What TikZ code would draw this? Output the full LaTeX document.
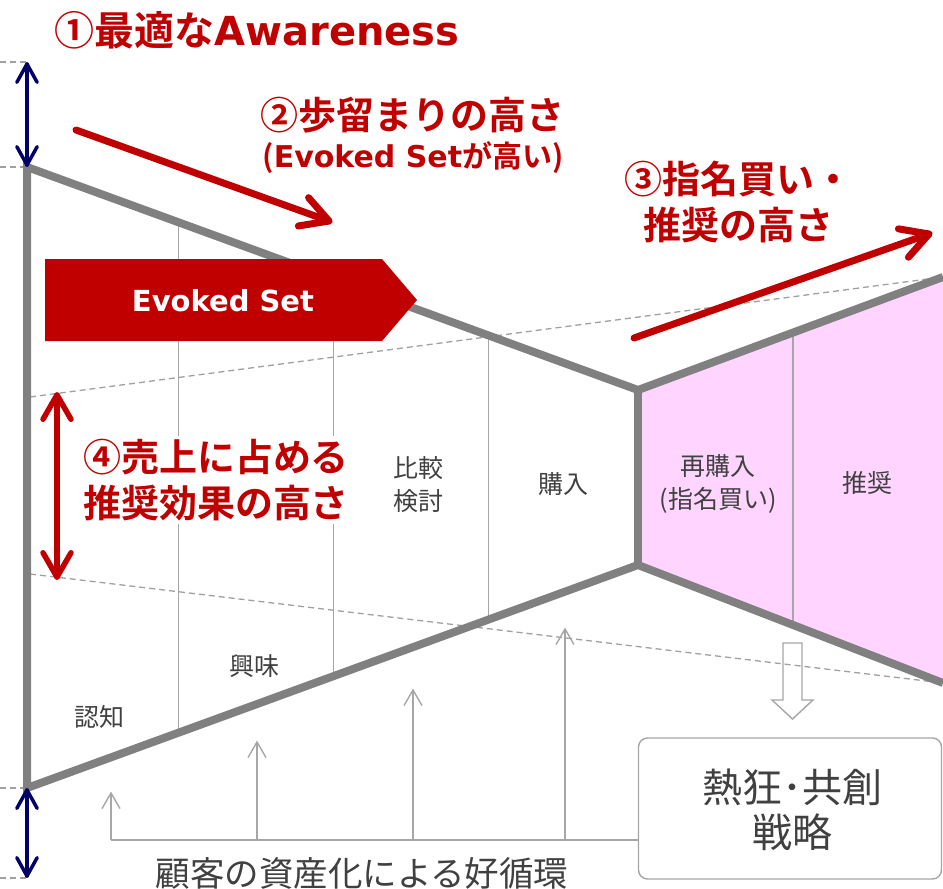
\documentclass[tikz,border=0pt]{standalone}
\usepackage{fontspec}
\setmainfont{Noto Sans CJK JP}[BoldFont=* Bold]
\newfontfamily\lat{DejaVu Sans}
\usetikzlibrary{calc}
\definecolor{myred}{HTML}{C00000}
\definecolor{mynavy}{HTML}{000066}
\definecolor{mypink}{HTML}{FFD5FF}
\definecolor{outl}{HTML}{808080}
\definecolor{thinc}{HTML}{A6A6A6}
\definecolor{guidec}{HTML}{A0A0A0}
\definecolor{txt}{HTML}{404040}
% chevron head: style, tip, from-point, arm length, half angle
\newcommand{\chevhead}[5]{\draw[#1] ($(#2)!#4!#5:(#3)$) -- (#2) -- ($(#2)!#4!-#5:(#3)$);}
\begin{document}
\begin{tikzpicture}[x=1pt,y=-1pt,
  outline/.style={draw=outl,line width=8pt,line join=miter},
  divider/.style={draw=thinc,line width=1.4pt},
  guide/.style={draw=guidec,line width=1.3pt,dash pattern=on 6pt off 4pt},
  thinline/.style={draw=thinc,line width=1.4pt},
  thinarr/.style={draw=thinc,line width=1.4pt,line join=miter},
  redarr/.style={draw=myred,line width=7pt,line cap=round,line join=round},
  navyarr/.style={draw=mynavy,line width=3.5pt,line cap=round,line join=round},
  reddblarr/.style={draw=myred,line width=5.5pt,line cap=round,line join=round},
  stagelbl/.style={text=txt,font=\fontsize{25}{33}\selectfont,align=center,inner sep=0pt},
  redlbl/.style={text=myred,font=\bfseries\fontsize{38}{46}\selectfont,align=center,inner sep=0pt},
  bigtxt/.style={text=txt,align=center,inner sep=0pt}
]
\useasboundingbox (0,0) rectangle (943,889);

% funnel vertices
\coordinate (TL) at (27,167);
\coordinate (BL) at (27,788);
\coordinate (PT) at (638,390);
\coordinate (PB) at (638,565);
\coordinate (RT) at (943,277);
\coordinate (RB) at (943,683);

% pink part
\fill[mypink] (PT) -- (RT) -- (RB) -- (PB) -- cycle;

% dashed guides
\draw[guide] (30,397) -- (RT);
\draw[guide] (30,574) -- (RB);
\draw[guide] (0,62) -- (27,62);
\draw[guide] (0,167) -- (TL);
\draw[guide] (0,788) -- (BL);
\draw[guide] (0,878) -- (27,878);

% stage dividers
\draw[divider] ($(TL)!0.2475!(PT)$) -- ($(BL)!0.2475!(PB)$);
\draw[divider] ($(TL)!0.5016!(PT)$) -- ($(BL)!0.5016!(PB)$);
\draw[divider] ($(TL)!0.7557!(PT)$) -- ($(BL)!0.7557!(PB)$);
\draw[divider] ($(PT)!0.5082!(RT)$) -- ($(PB)!0.5082!(RB)$);

% funnel outline
\draw[outline] (RT) -- (PT) -- (TL) -- (BL) -- (PB) -- (RB);
\draw[outline] (PT) -- (PB);

% Evoked Set banner
\fill[myred] (45,259) -- (382,259) -- (417,300) -- (382,341) -- (45,341) -- cycle;
\node[text=white,font=\lat\bfseries\fontsize{29}{29}\selectfont,inner sep=0pt] (evoked) at (223,301) {Evoked Set};

% red arrows
\coordinate (a2s) at (76,130);
\coordinate (a2e) at (329,221);
\draw[redarr] (a2s) -- (a2e);
\chevhead{redarr}{a2e}{a2s}{31pt}{29}
\coordinate (a3s) at (634,338);
\coordinate (a3e) at (929,234);
\draw[redarr] (a3s) -- (a3e);
\chevhead{redarr}{a3e}{a3s}{31pt}{29}

% navy arrows
\coordinate (n1) at (27,64);
\coordinate (n2) at (27,165);
\coordinate (n3) at (27,790);
\coordinate (n4) at (27,876);
\draw[navyarr] (n1) -- (n2);
\chevhead{navyarr}{n1}{n2}{21pt}{29}
\chevhead{navyarr}{n2}{n1}{21pt}{29}
\draw[navyarr] (n3) -- (n4);
\chevhead{navyarr}{n3}{n4}{21pt}{29}
\chevhead{navyarr}{n4}{n3}{21pt}{29}

% red double arrow
\coordinate (r1) at (57,395);
\coordinate (r2) at (57,577);
\draw[reddblarr] (r1) -- (r2);
\chevhead{reddblarr}{r1}{r2}{28pt}{30}
\chevhead{reddblarr}{r2}{r1}{28pt}{30}

% labels in red
\node[text=myred,inner sep=0pt] (lbl1) at (257,30)
  {\bfseries\fontsize{40}{40}\selectfont ①最適な{\lat\bfseries Awareness}};
\node[redlbl] (lbl2a) at (412,115) {②歩留まりの高さ};
\node[text=myred,inner sep=0pt,font=\bfseries\fontsize{30}{30}\selectfont] (lbl2b) at (413,158)
  {({\lat\bfseries Evoked Set}が高い)};
\node[redlbl] (lbl3) at (738,202) {③指名買い・\\推奨の高さ};
\node[redlbl,fill=white,inner sep=3pt] (lbl4) at (216,480) {④売上に占める\\推奨効果の高さ};

% stage labels
\node[stagelbl] (s1) at (99,717) {認知};
\node[stagelbl] (s2) at (254,666) {興味};
\node[stagelbl] (s3) at (418,485) {比較\\検討};
\node[stagelbl] (s4) at (563,484) {購入};
\node[stagelbl] (s5) at (718,484) {再購入\\(指名買い)};
\node[stagelbl] (s6) at (867,483) {推奨};

% strategy box
\node[draw=thinc,line width=1.4pt,rounded corners=9pt,minimum width=303pt,minimum height=141pt,inner sep=0pt] (strat) at (790,808.5) {};
\node[bigtxt,font=\fontsize{40}{45}\selectfont] (strattxt) at (792,810) {熱狂･共創\\戦略};

% hollow down arrow
\draw[thinline,line join=miter] (783,643) -- (802,643) -- (802,700) -- (813,700) -- (792.5,719) -- (772,700) -- (783,700) -- cycle;

% feedback arrows
\coordinate (b0) at (111,840);
\coordinate (b1) at (257,840);
\coordinate (b2) at (413,840);
\coordinate (b3) at (565,840);
\coordinate (t0) at (111,793);
\coordinate (t1) at (257,742);
\coordinate (t2) at (413,690);
\coordinate (t3) at (565,629);
\draw[thinline] (b0) -- (b0 -| strat.west);
\draw[thinarr] (b0) -- (t0);
\chevhead{thinarr}{t0}{b0}{18pt}{30}
\draw[thinarr] (b1) -- (t1);
\chevhead{thinarr}{t1}{b1}{18pt}{30}
\draw[thinarr] (b2) -- (t2);
\chevhead{thinarr}{t2}{b2}{18pt}{30}
\draw[thinarr] (b3) -- (t3);
\chevhead{thinarr}{t3}{b3}{18pt}{30}

\node[bigtxt,font=\fontsize{34.5}{34.5}\selectfont] (cycle) at (362,873) {顧客の資産化による好循環};
\end{tikzpicture}
\end{document}
